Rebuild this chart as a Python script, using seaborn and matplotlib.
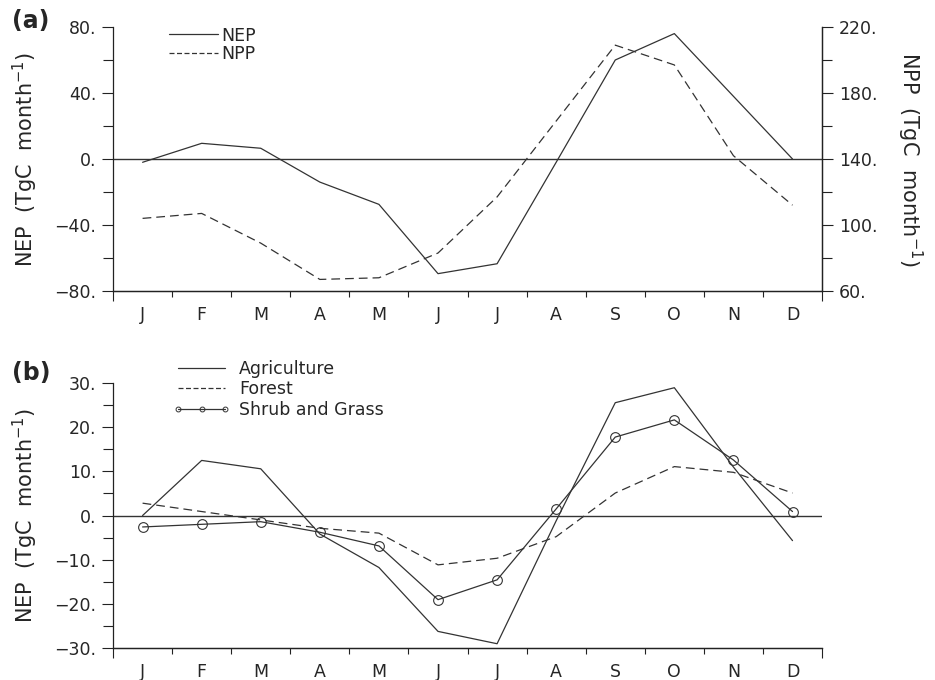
import numpy as np
import pandas as pd
import seaborn as sns
import matplotlib.pyplot as plt
from matplotlib.lines import Line2D
from matplotlib.ticker import FixedLocator, FuncFormatter

sns.set_style('ticks')
plt.rcParams['font.family'] = ['DejaVu Sans']
plt.rcParams['mathtext.default'] = 'regular'

months = ['J', 'F', 'M', 'A', 'M', 'J', 'J', 'A', 'S', 'O', 'N', 'D']
month_num = np.arange(1, 13)

# (a) 全区域 NEP / NPP
nep_total = [-2, 9.5, 6.5, -14, -27.5, -69.5, -63.5, -2, 60, 76, 38, 0]
npp_total = [104, 107, 89, 67, 68, 83, 117, 163, 209, 197, 142, 112]

# (b) 不同植被类型 NEP
nep_agri = [0, 12.5, 10.6, -4.2, -11.8, -26.3, -29.1, -1.2, 25.6, 29, 11, -5.7]
nep_forest = [2.8, 0.9, -1, -2.9, -4, -11.2, -9.7, -4.8, 5.1, 11.1, 9.8, 5.1]
nep_shrub = [-2.6, -2, -1.4, -3.8, -6.9, -19.1, -14.6, 1.5, 17.8, 21.7, 12.6, 0.9]

df_a = pd.DataFrame({'month': month_num, 'NEP': nep_total, 'NPP': npp_total})
df_b = pd.DataFrame({'month': month_num, 'Agriculture': nep_agri,
                     'Forest': nep_forest, 'Shrub': nep_shrub})

lc = '#333333'
ac = '#222222'
dash = (0, (7, 4))
fs = 12.5


def fmt(v, pos):
    return f'{v:.0f}.'.replace('-', '\u2212')


def style_axis(ax, major, minor, lim):
    ax.set_xlim(0.5, 12.5)
    ax.set_ylim(*lim)
    ax.set_xticks(month_num, labels=months)
    ax.xaxis.set_minor_locator(FixedLocator(np.arange(1.5, 12.5, 1)))
    ax.tick_params(axis='x', which='major', length=0, pad=11, labelsize=12.5)
    ax.tick_params(axis='x', which='minor', length=4.5, width=0.8, color=ac)
    ax.set_yticks(major)
    ax.yaxis.set_minor_locator(FixedLocator(minor))
    ax.yaxis.set_major_formatter(FuncFormatter(fmt))
    ax.tick_params(axis='y', which='major', length=8, width=0.8, pad=4, labelsize=fs, color=ac)
    ax.tick_params(axis='y', which='minor', length=7, width=0.8, color=ac)
    ax.axhline(0, color=lc, lw=1)
    for s in ['left', 'bottom', 'right']:
        ax.spines[s].set_linewidth(0.9)
        ax.spines[s].set_color(ac)
    ax.spines['top'].set_visible(False)
    # 两端较长的刻度
    sec = ax.secondary_xaxis('bottom')
    sec.set_xticks([0.5, 12.5], labels=['', ''])
    sec.tick_params(length=7.5, width=0.8, color=ac)
    sec.spines['bottom'].set_linewidth(0.9)
    sec.spines['bottom'].set_color(ac)
    ax.set_xlabel('')
    ax.set_ylabel('NEP  (TgC  month$^{-1}$)', fontsize=15)
    ax.yaxis.set_label_coords(-0.103, 0.5)


fig = plt.figure(figsize=(9.35, 6.8), dpi=100)
ax1 = fig.add_axes([0.1209, 0.5721, 0.7583, 0.3882])
ax3 = fig.add_axes([0.1209, 0.0475, 0.7583, 0.3888])

# ---- (a)
sns.lineplot(data=df_a, x='month', y='NEP', ax=ax1, color=lc, lw=0.9)
ax2 = ax1.twinx()
sns.lineplot(data=df_a, x='month', y='NPP', ax=ax2, color=lc, lw=0.9, linestyle=dash)
style_axis(ax1, [-80, -40, 0, 40, 80], [-60, -20, 20, 60], (-80, 80))
ax2.set_ylim(60, 220)
ax2.set_yticks([60, 100, 140, 180, 220])
ax2.yaxis.set_minor_locator(FixedLocator([80, 120, 160, 200]))
ax2.yaxis.set_major_formatter(FuncFormatter(fmt))
ax2.tick_params(axis='y', which='major', length=8, width=0.8, pad=4, labelsize=fs, color=ac)
ax2.tick_params(axis='y', which='minor', length=7, width=0.8, color=ac)
for s in ['left', 'bottom', 'top']:
    ax2.spines[s].set_visible(False)
ax2.spines['right'].set_linewidth(0.9)
ax2.spines['right'].set_color(ac)
ax2.set_ylabel('NPP  (TgC  month$^{-1}$)', fontsize=15, rotation=270, va='bottom')
ax2.yaxis.set_label_coords(1.103, 0.5)

h_a = [Line2D([], [], color=lc, lw=0.9),
       Line2D([], [], color=lc, lw=0.9, linestyle=(0, (4, 2)))]
ax1.legend(h_a, ['NEP', 'NPP'], loc='upper left', bbox_to_anchor=(0.181, 0.961),
           bbox_transform=fig.transFigure, frameon=False, fontsize=fs,
           handlelength=2.8, handletextpad=0.2, labelspacing=0.05,
           borderpad=0, borderaxespad=0)

# ---- (b)
sns.lineplot(data=df_b, x='month', y='Agriculture', ax=ax3, color=lc, lw=0.9)
sns.lineplot(data=df_b, x='month', y='Forest', ax=ax3, color=lc, lw=0.9, linestyle=dash)
sns.lineplot(data=df_b, x='month', y='Shrub', ax=ax3, color=lc, lw=0.9,
             marker='o', markersize=7, markerfacecolor='none',
             markeredgecolor=lc, markeredgewidth=0.8)
style_axis(ax3, np.arange(-30, 31, 10), np.arange(-25, 30, 10), (-30, 30))
ax3.spines['right'].set_visible(False)

h_b = [Line2D([], [], color=lc, lw=0.9),
       Line2D([], [], color=lc, lw=0.9, linestyle=(0, (4, 2))),
       Line2D([], [], color=lc, lw=0.9, marker='o', markersize=3.5,
              markerfacecolor='none', markeredgewidth=0.7)]
ax3.legend(h_b, ['Agriculture', 'Forest', 'Shrub and Grass'], loc='upper left',
           bbox_to_anchor=(0.185, 0.471), bbox_transform=fig.transFigure,
           frameon=False, fontsize=fs, numpoints=3, handlelength=3.3,
           handletextpad=0.5, labelspacing=0.15, borderpad=0, borderaxespad=0)

fig.text(0.013, 0.969, '(a)', fontsize=17, fontweight='bold', va='center')
fig.text(0.013, 0.451, '(b)', fontsize=17, fontweight='bold', va='center')

fig.savefig('out.png', dpi=100)
